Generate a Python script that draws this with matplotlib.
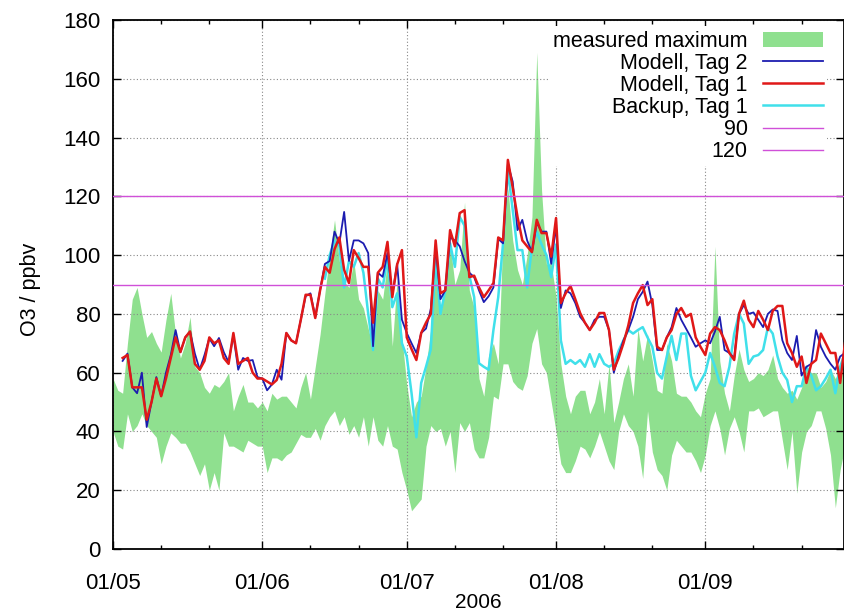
import numpy as np
import pandas as pd
import matplotlib
matplotlib.use('Agg')
import matplotlib.pyplot as plt
import matplotlib.dates as mdates
from matplotlib.ticker import MultipleLocator

plt.rcParams['font.family'] = ['Liberation Sans', 'DejaVu Sans']

nan = np.nan
days = pd.date_range('2006-05-01', '2006-09-30', freq='D')

# measured range (green band), May..Sep
meas_max = [58, 54, 53, 70, 85, 89, 80, 72, 74, 70, 67, 78, 87, 73, 65, 70, 79, 62, 60, 55,
            53, 56, 55, 57, 60, 47, 52, 56, 50, 50, 48,
            50, 47, 53, 51, 52, 52, 50, 48, 55, 60, 51, 62, 73, 87, 100, 112, 98, 91, 89, 98,
            85, 82, 75, 68, 88, 85, 98, 69, 92, 72,
            56, 45, 50, 52, 62, 75, 104, 80, 88, 104, 90, 95, 118, 88, 82, 58, 52, 66, 70, 63,
            108, 123, 105, 95, 90, 100, 113, 169, 122, 97, 97,
            86, 63, 52, 46, 52, 54, 54, 46, 50, 58, 46, 63, 43, 50, 58, 63, 52, 75, 64, 73,
            64, 54, 53, 70, 64, 53, 52, 52, 50, 47, 45,
            53, 58, 103, 64, 53, 47, 59, 68, 61, 57, 58, 60, 59, 61, 66, 58, 55, 53, 54, 51,
            55, 62, 60, 60, 55, 57, 61, 58, 62, 58]
meas_min = [40, 35, 34, 46, 40, 42, 46, 42, 40, 38, 29, 35, 39.5, 38, 36, 36, 33, 29, 25, 29,
            20, 26, 20, 39.5, 35, 35, 34, 33, 37, 36, 35,
            35, 26, 31, 31, 30, 32, 33, 36, 39, 38, 38, 41, 37, 42, 45, 47, 42, 45, 39, 42,
            38, 45, 35, 45, 37, 35, 42, 35, 34, 26,
            20, 13, 15, 17, 35, 42, 40, 41, 35, 40, 26, 43, 40, 43, 34, 31, 31, 38, 52, 51,
            63, 63, 57, 55, 54, 59, 70, 75, 63, 60, 50,
            40, 29, 26, 26, 30, 35, 34, 31, 35, 40, 35, 30, 27, 40, 46, 42, 40, 35, 24, 47,
            33, 27, 25, 20, 32, 37, 35, 33, 33, 30, 26,
            32, 42, 47, 41, 32, 41, 45, 40, 33, 47, 47, 48, 45, 46, 47, 47, 37, 27, 40, 19,
            33, 40, 42, 47, 47, 41, 32, 14, 27, 35]

modell_tag2 = [nan, nan, 64, 66.5, 55, 53, 60, 41.5, 50, 58.5, 52, 60, 66, 74.5, 67, 72, 74, 66.5, 61, 66,
               71.7, 69, 71.8, 67, 63.6, 72.8, 61, 65, 64, 64.3, 58.5,
               58, 54, 56, 61, 57.6, 73.5, 71, 70, 78, 86, 87, 79, 88, 97, 98, 108, 104, 114.7, 98, 105,
               105, 104, 100.7, 69, 94, 92.6, 100.7, 86.5, 97, 78,
               73.5, 70, 66.7, 73.5, 75, 81.7, 103, 85, 88, 106, 105, 103, 98, 94, 92.5, 88, 84, 86, 89, 105.5,
               104, 131, 125, 108.5, 112, 105, 101, 111, 108, 108, 97,
               110, 82, 88, 87, 83.7, 79, 77, 74.5, 78, 79, 79, 74.5, 60, 66, 71, 74.5, 79, 85, 87.5, 91,
               83, 67.7, 67.7, 72, 75.5, 82, 78, 75, 72, 68.8, 70,
               71, 70, 74, 79, 67.7, 66.7, 65, 80, 83, 80, 80.5, 78, 75.5, 80, 81.5, 81, 71, 66.7, 64.3, 72.5,
               59, 62, 63, 74.5, 68.8, 65.5, 63, 61, 65.5, 66.7]
modell_tag1 = [nan, nan, 65, 66, 55, 55, 55, 44, 50, 58, 52, 58, 65, 72, 67, 72, 74, 63, 61, 64,
               72, 70, 71, 65, 63, 73.5, 63, 64, 65, 60, 58,
               58, 57, 56, 57.5, 63, 73.5, 71, 70, 78, 86.5, 86.5, 78.6, 88, 96, 94, 102, 106, 95, 90.5, 101.7,
               99, 96, 96, 77, 94, 96, 104.5, 85.7, 96.8, 101.7,
               72, 68, 64.3, 73.5, 77, 80, 105, 87, 88, 108.5, 103, 114.3, 115.3, 92.5, 93, 89, 85.7, 88, 90.5, 106,
               105, 132.4, 123, 113, 105, 103, 101, 112, 107.5, 107.5, 99.5,
               112.6, 83.7, 87, 89.5, 85, 80.3, 77, 74.5, 77, 80.3, 80.3, 74.5, 61, 65, 70, 76, 83.7, 87, 89.8, 83,
               85, 68.8, 67.7, 72, 74.5, 80, 82, 79, 80, 72, 68.8,
               66, 73.3, 75.5, 74.5, 71, 66.7, 64.3, 80, 84.5, 78, 75.5, 81, 78, 74.5, 81, 82.7, 82.7, 70, 66.7, 62,
               65.5, 56.5, 63, 64.3, 73.3, 70, 66.7, 66.7, 56.5, 70]
backup_tag1 = [nan] * 31 + [nan] * 13 + \
              [92, 100, 105, 103, 89, 98, 96, 100.7, 94, 80, 67.7, 92, 89, 99, 82.3, 87, 70,
               65.5, 53, 38, 56.5, 62, 68, 99, 80, 88, 104, 96, 113, 110, 93, 85.7, 63.2, 62, 61, 74.5, 85.7,
               104, 129, 115.5, 101.7, 101.7, 89, 102.7, 108, 103.6, 100, 92.5,
               103.6, 71, 63, 64.3, 63, 64.3, 62, 66.3, 62, 66.3, 63, 62, 63, 67.5, 71, 74.5, 73.3, 74.5, 75.5, 72,
               68.8, 59.9, 58, 65.5, 72.5, 64.3, 73.3, 73.3, 59, 54, 57,
               60, 66.7, 62, 56.5, 55.4, 62, 73.3, 80, 76.7, 63, 65.5, 66, 67.7, 75.5, 73.3, 65.5, 60, 57.5, 50, 55.4,
               55.4, 62, 59, 54, 55.4, 58, 61, 53, 62, 66.7]
limit_low = 90
limit_high = 120

fig = plt.figure(figsize=(8.44, 6.13), dpi=100)
ax = fig.add_axes([113 / 844, 1 - 549 / 613, 1 - 113 / 844, 529 / 613])

band = ax.fill_between(days, meas_min, meas_max, color='#8fe08f', lw=0, zorder=1,
                       label='measured maximum')
l2, = ax.plot(days, modell_tag2, color='#1c1cb0', lw=1.3, zorder=3, label='Modell, Tag 2')
l1, = ax.plot(days, modell_tag1, color='#e01818', lw=1.8, zorder=4, label='Modell, Tag 1')
lb, = ax.plot(days, backup_tag1, color='#40e0ea', lw=1.8, zorder=2.5, label='Backup, Tag 1')
h90 = ax.axhline(limit_low, color='#d050d8', lw=1.0, zorder=5, label='90')
h120 = ax.axhline(limit_high, color='#d050d8', lw=1.0, zorder=5, label='120')

ax.set_xlim(days[0], days[0] + pd.Timedelta(days=151.8))
ax.set_ylim(0, 180)
ax.xaxis.set_major_locator(mdates.MonthLocator())
ax.xaxis.set_major_formatter(mdates.DateFormatter('%d/%m'))
ax.xaxis.set_minor_locator(mdates.DayLocator(bymonthday=[11, 21]))
ax.yaxis.set_major_locator(MultipleLocator(20))

ax.tick_params(which='both', direction='in', top=True, right=True, labelsize=16)
ax.tick_params(which='major', length=6, width=1)
ax.tick_params(which='minor', length=3, width=1)
ax.tick_params(axis='x', which='major', pad=17)
ax.tick_params(axis='y', which='major', pad=9)
ax.grid(True, which='major', linestyle=(0, (1, 2)), color='#888888', lw=0.8)
for s in ax.spines.values():
    s.set_linewidth(1.3)

ax.set_ylabel('O3 / ppbv', fontsize=15.5)
ax.yaxis.set_label_coords(-0.099, 0.49)
ax.set_xlabel('2006', fontsize=15)
ax.xaxis.label.set_va('center')
ax.xaxis.set_label_coords(0.5, -(602 - 549) / 529)

leg = ax.legend(handles=[band, l2, l1, lb, h90, h120], loc='upper right',
                bbox_to_anchor=(0.986, 1.0), markerfirst=False,
                fontsize=15.5, frameon=True, framealpha=1, facecolor='white', edgecolor='none',
                fancybox=False, handlelength=2.8, handletextpad=0.7, labelspacing=0.05,
                borderpad=0.2, borderaxespad=0.3)
leg.set_zorder(10)

fig.savefig('out.png', dpi=100)
